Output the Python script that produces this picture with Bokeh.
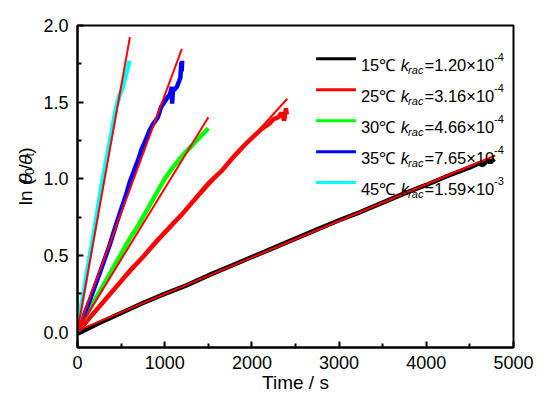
from math import pi

from bokeh.core.properties import value
from bokeh.embed import file_html
from bokeh.layouts import row
from bokeh.models import FixedTicker, PrintfTickFormatter
from bokeh.plotting import figure
from bokeh.resources import INLINE

FONT = "Liberation Sans"

# legend texts
temps = ["15℃", "25℃", "30℃", "35℃", "45℃"]
k_mant = ["=1.20×10", "=3.16×10", "=4.66×10", "=7.65×10", "=1.59×10"]
k_exp = ["-4", "-4", "-4", "-4", "-3"]
colors = ["#000000", "#FF0000", "#00FF00", "#0000FF", "#00FFFF"]

t15 = [0, 250, 500, 750, 1000, 1250, 1500, 1750, 2000, 2250, 2500, 2750, 3000,
       3250, 3500, 3750, 4000, 4250, 4500, 4600, 4650, 4700, 4740, 4780]
v15 = [-0.01, 0.06, 0.125, 0.19, 0.25, 0.305, 0.37, 0.43, 0.49, 0.55, 0.61, 0.67, 0.73,
       0.785, 0.845, 0.905, 0.96, 1.02, 1.075, 1.10, 1.09, 1.12, 1.11, 1.13]

t25 = [0, 150, 300, 450, 600, 750, 900, 1050, 1200, 1350, 1500, 1650, 1800, 1950,
       2100, 2200, 2250, 2300, 2340, 2370, 2390, 2400]
v25 = [0.0, 0.10, 0.20, 0.30, 0.40, 0.49, 0.59, 0.68, 0.77, 0.87, 0.97, 1.05, 1.15, 1.24,
       1.32, 1.36, 1.39, 1.40, 1.43, 1.38, 1.46, 1.42]

t30 = [0, 100, 200, 300, 400, 500, 600, 700, 800, 900, 1000, 1100, 1200, 1300,
       1400, 1450, 1500]
v30 = [0.0, 0.11, 0.21, 0.31, 0.41, 0.51, 0.61, 0.70, 0.80, 0.90, 1.00, 1.08, 1.15, 1.21,
       1.27, 1.30, 1.33]

t35 = [0, 60, 140, 220, 293, 370, 445, 500, 559, 600, 653, 700, 730, 780, 825, 870,
       920, 960, 996, 1030, 1060, 1080, 1085, 1095, 1110, 1140, 1167, 1180, 1190, 1195, 1200]
v35 = [0.0, 0.09, 0.206, 0.33, 0.446, 0.57, 0.706, 0.80, 0.90, 0.98, 1.06, 1.13, 1.185,
       1.25, 1.315, 1.36, 1.40, 1.47, 1.50, 1.53, 1.55, 1.60, 1.49, 1.58, 1.58, 1.60, 1.64,
       1.66, 1.76, 1.70, 1.77]

t45 = [0, 40, 80, 120, 160, 200, 240, 280, 320, 360, 400, 440, 480, 520, 560, 580, 597]
v45 = [0.0, 0.16, 0.29, 0.43, 0.56, 0.69, 0.83, 0.97, 1.09, 1.21, 1.33, 1.46, 1.54, 1.60,
       1.69, 1.73, 1.77]

series_t = [t15, t25, t30, t35, t45]
series_v = [v15, v25, v30, v35, v45]

# linear fits (red), start and end points
fit_start_v = [0.01, 0.01, 0.01, 0.01, 0.01]
fit_end_t = [4789, 2406, 1501, 1197, 601]
fit_end_v = [1.152, 1.522, 1.402, 1.848, 1.924]

x_ticks = [0, 1000, 2000, 3000, 4000, 5000]
x_minor = [500, 1500, 2500, 3500, 4500]
y_ticks = [0.0, 0.5, 1.0, 1.5, 2.0]
y_minor = [0.25, 0.75, 1.25, 1.75]

W_LAB = 40          # width of the strip holding the y axis label
HEIGHT = 397
FRAME_LEFT = 75
FRAME_TOP = 25
PX_T = 0.0877       # pixels per second
PX_V = 153.3        # pixels per unit of ln


def px_x(px):
    # pixel of the picture -> data x
    return (px - FRAME_LEFT) / PX_T


def px_y(py):
    return (FRAME_TOP + 2.0 * PX_V - py) / PX_V


p = figure(width=534 - W_LAB, height=HEIGHT, x_range=(0, 5000), y_range=(-0.1, 2.0),
           output_backend="svg", toolbar_location=None,
           min_border_left=FRAME_LEFT - W_LAB, min_border_right=21,
           min_border_top=FRAME_TOP, min_border_bottom=50)
p.grid.visible = False
p.outline_line_color = "black"
p.outline_line_width = 2

for ax in (p.xaxis[0], p.yaxis[0]):
    ax.axis_line_width = 2
    ax.axis_line_color = "black"
    ax.major_tick_line_width = 2
    ax.minor_tick_line_width = 2
    ax.major_tick_in = 6
    ax.major_tick_out = 0
    ax.minor_tick_in = 4
    ax.minor_tick_out = 0
    ax.major_label_text_font = FONT
    ax.major_label_text_font_size = "18px"
    ax.major_label_text_color = "black"

p.xaxis.ticker = FixedTicker(ticks=x_ticks, minor_ticks=x_minor)
p.yaxis.ticker = FixedTicker(ticks=y_ticks, minor_ticks=y_minor)
p.yaxis.formatter = PrintfTickFormatter(format="%.1f")
p.xaxis.major_label_standoff = 8
p.yaxis.major_label_standoff = 9
p.xaxis.axis_label = "Time / s"
p.xaxis.axis_label_text_font = FONT
p.xaxis.axis_label_text_font_size = "19px"
p.xaxis.axis_label_text_font_style = "normal"
p.xaxis.axis_label_text_color = "black"
p.xaxis.axis_label_standoff = 0

# data
for t, v, c in zip(series_t, series_v, colors):
    p.line(t, v, line_color=c, line_width=4.5)

# fits
p.segment(x0=[0] * 5, y0=fit_start_v, x1=fit_end_t, y1=fit_end_v,
          line_color="#FF0000", line_width=2)

# legend, drawn by hand because of the sub/superscripts
row_py = [58.3, 89.3, 120.3, 151.3, 182.0]
row_y = [px_y(r) for r in row_py]
base_y = [px_y(r + 6.5) for r in row_py]
sub_y = [px_y(r + 11.0) for r in row_py]
sup_y = [px_y(r - 1.5) for r in row_py]

p.segment(x0=[px_x(315)] * 5, x1=[px_x(355)] * 5, y0=row_y, y1=row_y,
          line_color=colors, line_width=3)
common = dict(text_font=value(FONT), text_color="black", text_baseline="alphabetic",
              text_align="left")
p.text(x=[px_x(360)] * 5, y=base_y, text=temps, text_font_size="16.5px", **common)
p.text(x=[px_x(400)] * 5, y=base_y, text=["k"] * 5, text_font_size="16.5px",
       text_font_style="italic", **common)
p.text(x=[px_x(407.5)] * 5, y=sub_y, text=["rac"] * 5, text_font_size="11px",
       text_font_style="italic", **common)
p.text(x=[px_x(424)] * 5, y=base_y, text=k_mant, text_font_size="16.5px", **common)
p.text(x=[px_x(494)] * 5, y=sup_y, text=k_exp, text_font_size="11px", **common)

# y axis label ln (theta0/theta_t) in a strip left of the plot,
# coordinates there are pixels of the picture
lab = figure(width=W_LAB, height=HEIGHT, x_range=(0, W_LAB), y_range=(HEIGHT, 0),
             output_backend="svg", toolbar_location=None, x_axis_type=None,
             y_axis_type=None, min_border=0)
lab.grid.visible = False
lab.outline_line_color = None

ylab_text = ["ln (", "θ", "0", "/", "θ", "t", ")"]
ylab_py = [221.7, 195.0, 184.4, 177.5, 172.0, 161.4, 158.0]
ylab_px = [25, 25, 29, 25, 25, 29, 25]
ylab_size = ["19px", "19px", "12px", "19px", "19px", "12px", "19px"]
ylab_style = ["normal", "italic", "normal", "normal", "italic", "normal", "normal"]
for txt, py, px, size, style in zip(ylab_text, ylab_py, ylab_px, ylab_size, ylab_style):
    lab.text(x=[px], y=[py], text=[txt], angle=pi / 2, text_font=value(FONT),
             text_font_size=size, text_font_style=style, text_color="black",
             text_align="left", text_baseline="alphabetic")

open("out.html", "w").write(file_html(row(lab, p), INLINE))
